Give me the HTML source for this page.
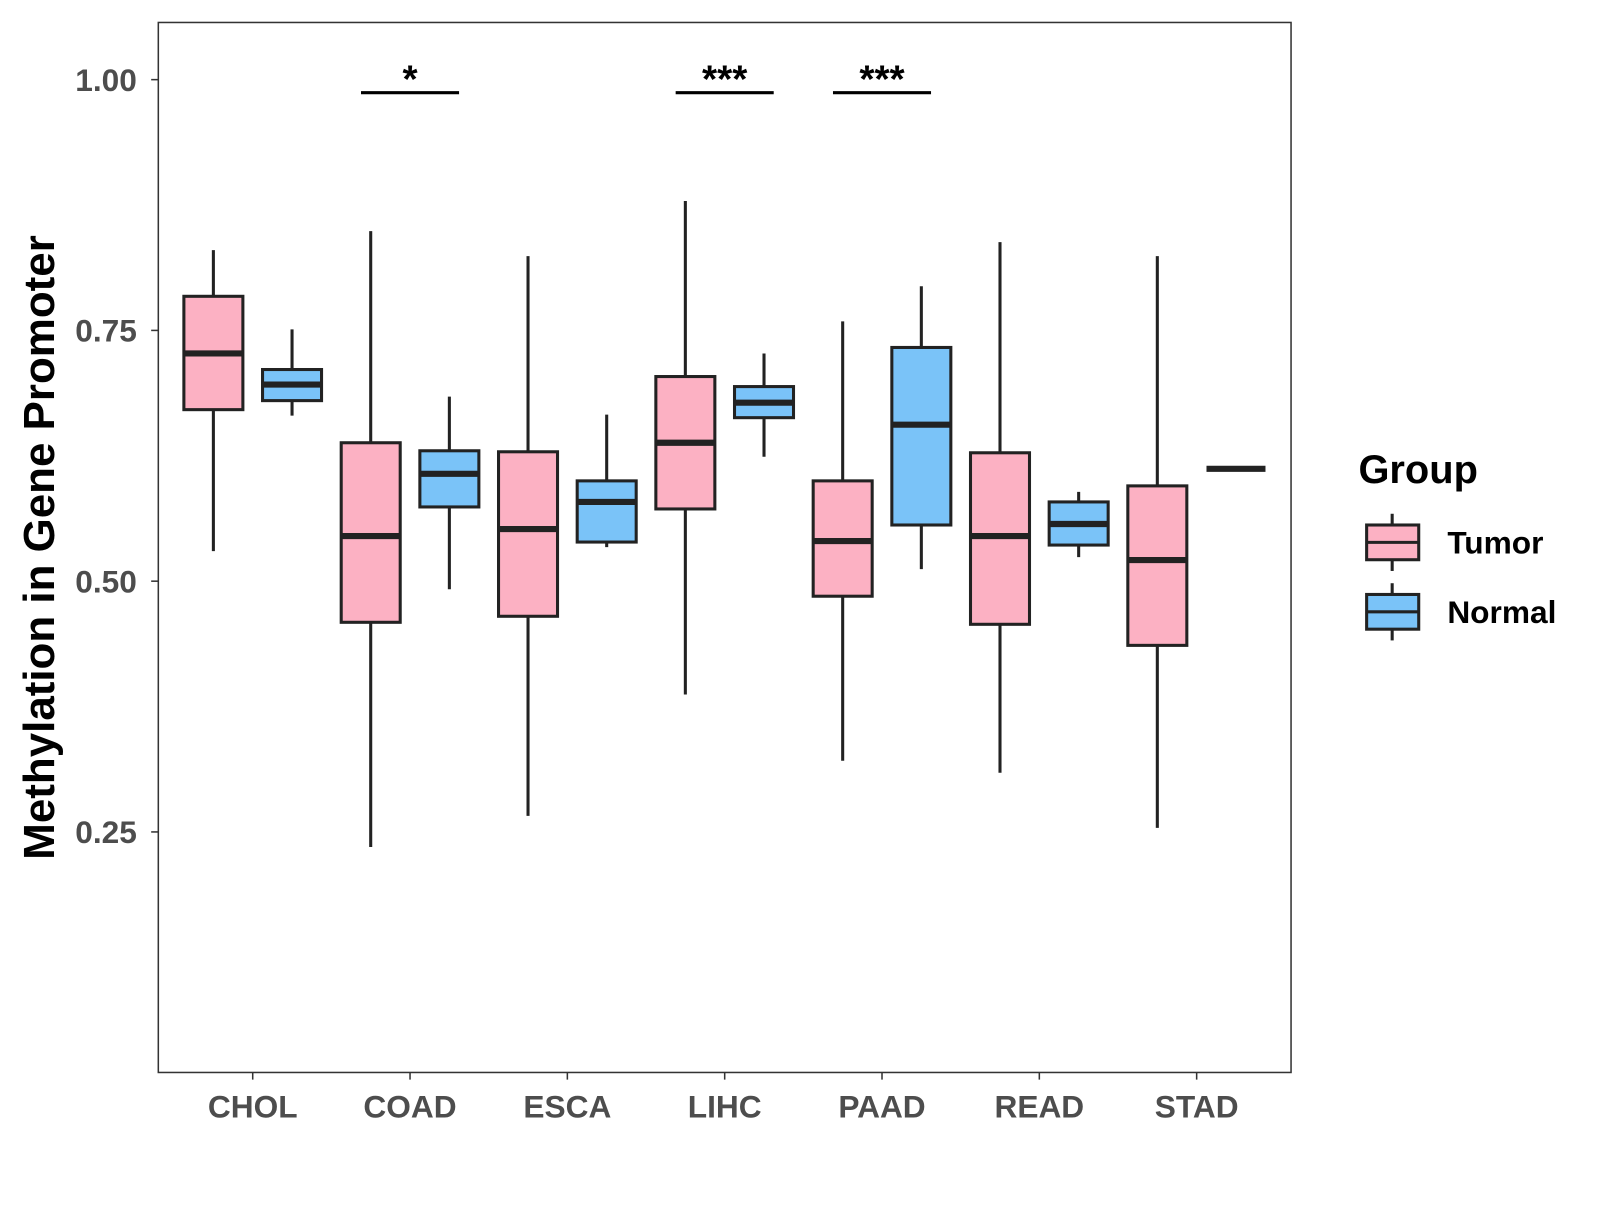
<!DOCTYPE html>
<html><head><meta charset="utf-8"><style>
body{margin:0;background:#fff;}
svg text{font-family:"Liberation Sans",Arial,sans-serif;font-weight:bold;}
</style></head><body>
<svg id="chart" width="1600" height="1200" viewBox="0 0 1600 1200" xmlns="http://www.w3.org/2000/svg">
<rect x="0" y="0" width="1600" height="1200" fill="#fff"/>
<g id="plot" transform="scale(1.0214)"></g>
</svg>
<script>
const categories=["CHOL","COAD","ESCA","LIHC","PAAD","READ","STAD"];
const tumorStats=[
[0.530,0.671,0.727,0.784,0.830],
[0.235,0.459,0.545,0.638,0.849],
[0.266,0.465,0.552,0.629,0.824],
[0.387,0.572,0.638,0.704,0.879],
[0.321,0.485,0.540,0.600,0.759],
[0.309,0.457,0.545,0.628,0.838],
[0.254,0.436,0.521,0.595,0.824]];
const normalStats=[
[0.665,0.680,0.696,0.711,0.751],
[0.492,0.574,0.607,0.630,0.684],
[0.534,0.539,0.579,0.600,0.666],
[0.624,0.663,0.678,0.694,0.727],
[0.512,0.556,0.656,0.733,0.794],
[0.524,0.536,0.557,0.579,0.589],
[0.612,0.612,0.612,0.612,0.612]];
const yTicks=[0.25,0.50,0.75,1.00];
const yTickLabels=["0.25","0.50","0.75","1.00"];
const sigCats=["COAD","LIHC","PAAD"];
const sigLabels=["*","***","***"];
const sigLevel=0.987;

const NS="http://www.w3.org/2000/svg";
const g=document.getElementById('plot');
const L=155,R=1264,T=22,B=1050;
const yMin=0.0102,yMax=1.057;
function y(v){return B-(v-yMin)/(yMax-yMin)*(B-T);}
const unit=(R-L)/(categories.length-1+1.2);
function x(i){return L+unit*(i+0.6);}
const dodge=unit/4, bw=unit*0.375;
function el(tag,attrs,parent){const e=document.createElementNS(NS,tag);for(const k in attrs)e.setAttribute(k,attrs[k]);(parent||g).appendChild(e);return e;}

const panel=el('rect',{x:L,y:T,width:R-L,height:B-T,fill:'none',stroke:'#333',"stroke-width":1.5});



yTicks.forEach((t,i)=>{
  const tk=el('line',{x1:L-7,x2:L,y1:y(t),y2:y(t),stroke:'#333',"stroke-width":1.5});
  
  
  const tx=el('text',{x:L-21,y:y(t)+11,"text-anchor":"end","font-size":31,fill:'#4d4d4d'});
  tx.textContent=yTickLabels[i];
  
  
});
categories.forEach((c,i)=>{
  const tk=el('line',{x1:x(i),x2:x(i),y1:B,y2:B+7,stroke:'#333',"stroke-width":1.5});
  
  
  const tx=el('text',{x:x(i),y:B+44,"text-anchor":"middle","font-size":31,fill:'#4d4d4d'});
  tx.textContent=c;
  
  
});

function box(cx,s,fill,name){
  const grp=el('g',{});
  
  
  el('line',{x1:cx,x2:cx,y1:y(s[0]),y2:y(s[4]),stroke:'#222',"stroke-width":3},grp);
  if(s[3]-s[1]>0.001){
    el('rect',{x:cx-bw/2,y:y(s[3]),width:bw,height:y(s[1])-y(s[3]),fill:fill,stroke:'#222',"stroke-width":3},grp);
  }
  el('line',{x1:cx-bw/2,x2:cx+bw/2,y1:y(s[2]),y2:y(s[2]),stroke:'#222',"stroke-width":6},grp);
}
categories.forEach((c,i)=>{
  box(x(i)-dodge,tumorStats[i],'#FCB1C3','box-tumor-'+c.toLowerCase());
  box(x(i)+dodge,normalStats[i],'#7AC3F8','box-normal-'+c.toLowerCase());
});
sigCats.forEach((c,j)=>{
  const i=categories.indexOf(c);
  const ln=el('line',{x1:x(i)-48,x2:x(i)+48,y1:y(sigLevel),y2:y(sigLevel),stroke:'#000',"stroke-width":3});
  
  
  const tx=el('text',{x:x(i),y:y(sigLevel),"text-anchor":"middle","font-size":38,fill:'#000'});
  tx.textContent=sigLabels[j];
  
  
});
const yt=el('text',{x:0,y:0,transform:'translate(53,536) rotate(-90)',"text-anchor":"middle","font-size":43,fill:'#000'});
yt.textContent='Methylation in Gene Promoter';


const lg=el('g',{});


const lt=el('text',{x:1330,y:473,"font-size":39,fill:'#000'},lg);
lt.textContent='Group';


[['Tumor','#FCB1C3',531],['Normal','#7AC3F8',599]].forEach(([n,f,cy])=>{
  const e=el('g',{},lg);
  
  
  el('line',{x1:1363,x2:1363,y1:cy-28,y2:cy+28,stroke:'#222',"stroke-width":3},e);
  el('rect',{x:1338,y:cy-17,width:51,height:34,fill:f,stroke:'#222',"stroke-width":3},e);
  el('line',{x1:1338,x2:1389,y1:cy,y2:cy,stroke:'#222',"stroke-width":3},e);
  const t=el('text',{x:1417,y:cy+11,"font-size":31,fill:'#000'},e);
  t.textContent=n;
});
</script>
</body></html>
